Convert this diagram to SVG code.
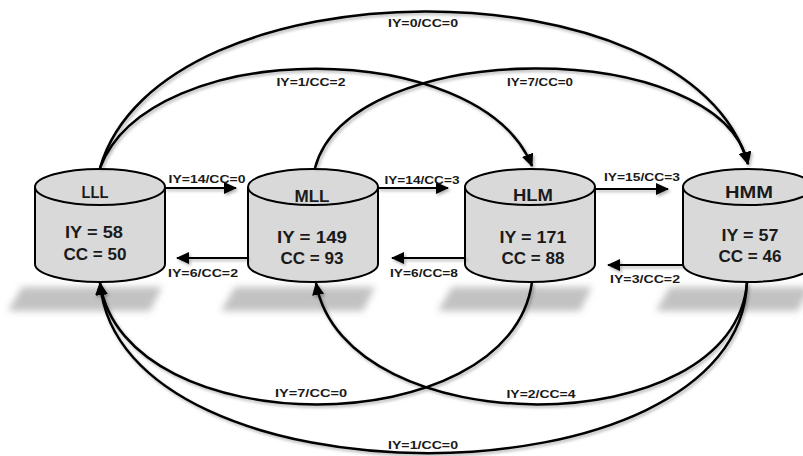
<svg xmlns="http://www.w3.org/2000/svg" width="803" height="456" viewBox="0 0 803 456">
  <style>
    .body { fill: #d9d9d9; stroke: #000; stroke-width: 2; }
    .shadow { fill: #c2c2c2; filter: url(#blur); }
    .nm { font-family: "Liberation Sans", Arial, sans-serif; font-weight: bold; font-size: 16px; fill: #1a1a1a; text-anchor: middle; }
    .val { font-family: "Liberation Sans", Arial, sans-serif; font-weight: bold; font-size: 16.5px; fill: #1a1a1a; text-anchor: middle; }
    .lbl { font-family: "Liberation Sans", Arial, sans-serif; font-weight: bold; font-size: 11px; fill: #1a1a1a; text-anchor: middle; }
    .arc { fill: none; stroke: #000; stroke-width: 2.5; marker-end: url(#ah); }
    .hz { fill: none; stroke: #000; stroke-width: 2; marker-end: url(#ah); }
  </style>
  <defs>
    <filter id="blur" x="-20%" y="-60%" width="140%" height="220%">
      <feGaussianBlur stdDeviation="3.5"/>
    </filter>
    <filter id="ds" x="-10%" y="-10%" width="120%" height="130%">
      <feDropShadow dx="1.5" dy="2" stdDeviation="1.5" flood-color="#000" flood-opacity="0.3"/>
    </filter>
    <marker id="ah" markerUnits="userSpaceOnUse" markerWidth="14" markerHeight="12" refX="12" refY="6" orient="auto">
      <path d="M0,0 L13,6 L0,12 Z" fill="#000"/>
    </marker>
  </defs>

  <!-- shadows -->
  <g id="shadows">
    <polygon class="shadow" points="22,287 162,287 150,311 8,311"/>
    <polygon class="shadow" points="235,287 375,287 363,311 221,311"/>
    <polygon class="shadow" points="452,287 592,287 580,311 438,311"/>
    <polygon class="shadow" points="670,287 810,287 798,311 656,311"/>
  </g>

  <!-- nodes -->
  <g id="LLL" transform="translate(100,187)">
    <path class="body" d="M-65,0 V77 A65,18 0 0 0 65,77 V0"/>
    <ellipse class="body" cx="0" cy="0" rx="65" ry="18"/>
    <text class="nm" x="-5" y="11" textLength="27" lengthAdjust="spacingAndGlyphs">LLL</text>
    <text class="val" x="-6" y="51" textLength="58" lengthAdjust="spacingAndGlyphs">IY = 58</text>
    <text class="val" x="-5" y="73" textLength="63" lengthAdjust="spacingAndGlyphs">CC = 50</text>
  </g>
  <g id="MLL" transform="translate(313,187)">
    <path class="body" d="M-65,0 V77 A65,18 0 0 0 65,77 V0"/>
    <ellipse class="body" cx="0" cy="0" rx="65" ry="18"/>
    <text class="nm" x="-1" y="15" textLength="35" lengthAdjust="spacingAndGlyphs">MLL</text>
    <text class="val" x="-1" y="56" textLength="70" lengthAdjust="spacingAndGlyphs">IY = 149</text>
    <text class="val" x="-1" y="77" textLength="63" lengthAdjust="spacingAndGlyphs">CC = 93</text>
  </g>
  <g id="HLM" transform="translate(530,187)">
    <path class="body" d="M-65,0 V77 A65,18 0 0 0 65,77 V0"/>
    <ellipse class="body" cx="0" cy="0" rx="65" ry="18"/>
    <text class="nm" x="3" y="14" textLength="40" lengthAdjust="spacingAndGlyphs">HLM</text>
    <text class="val" x="3" y="56" textLength="67" lengthAdjust="spacingAndGlyphs">IY = 171</text>
    <text class="val" x="3" y="77" textLength="63" lengthAdjust="spacingAndGlyphs">CC = 88</text>
  </g>
  <g id="HMM" transform="translate(748,187)">
    <path class="body" d="M-65,0 V77 A65,18 0 0 0 65,77 V0"/>
    <ellipse class="body" cx="0" cy="0" rx="65" ry="18"/>
    <text class="nm" x="1" y="11" textLength="48" lengthAdjust="spacingAndGlyphs">HMM</text>
    <text class="val" x="2" y="54" textLength="57" lengthAdjust="spacingAndGlyphs">IY = 57</text>
    <text class="val" x="2" y="75" textLength="63" lengthAdjust="spacingAndGlyphs">CC = 46</text>
  </g>

  <!-- connectors -->
  <g id="connectors" filter="url(#ds)">
    <path class="hz" d="M165,188 H236"/>
    <path class="hz" d="M378,188 H448"/>
    <path class="hz" d="M595,189 H668"/>
    <path class="hz" d="M248,258 H177"/>
    <path class="hz" d="M466,258 H392"/>
    <path class="hz" d="M683,265 H608"/>
    <path class="arc" d="M100,168 C160,-40 690,-40 748,164"/>
    <path class="arc" d="M100,168 C150,36 480,36 532,166"/>
    <path class="arc" d="M315,168 C350,36 720,36 748,164"/>
    <path class="arc" d="M532,282 C510,445 125,445 100,283"/>
    <path class="arc" d="M747,282 C735,445 345,445 316,283"/>
    <path class="arc" d="M747,282 C740,510 120,510 100,283"/>
  </g>

  <!-- connector labels -->
  <g id="labels">
    <text class="lbl" x="207" y="183" textLength="77" lengthAdjust="spacingAndGlyphs">IY=14/CC=0</text>
    <text class="lbl" x="203" y="277" textLength="70" lengthAdjust="spacingAndGlyphs">IY=6/CC=2</text>
    <text class="lbl" x="422" y="184" textLength="75" lengthAdjust="spacingAndGlyphs">IY=14/CC=3</text>
    <text class="lbl" x="424" y="277" textLength="68" lengthAdjust="spacingAndGlyphs">IY=6/CC=8</text>
    <text class="lbl" x="642" y="181" textLength="76" lengthAdjust="spacingAndGlyphs">IY=15/CC=3</text>
    <text class="lbl" x="645" y="283" textLength="70" lengthAdjust="spacingAndGlyphs">IY=3/CC=2</text>
    <text class="lbl" x="423" y="27" textLength="70" lengthAdjust="spacingAndGlyphs">IY=0/CC=0</text>
    <text class="lbl" x="311" y="86" textLength="69" lengthAdjust="spacingAndGlyphs">IY=1/CC=2</text>
    <text class="lbl" x="540" y="86" textLength="66" lengthAdjust="spacingAndGlyphs">IY=7/CC=0</text>
    <text class="lbl" x="311" y="397" textLength="72" lengthAdjust="spacingAndGlyphs">IY=7/CC=0</text>
    <text class="lbl" x="541" y="398" textLength="69" lengthAdjust="spacingAndGlyphs">IY=2/CC=4</text>
    <text class="lbl" x="423" y="449" textLength="70" lengthAdjust="spacingAndGlyphs">IY=1/CC=0</text>
  </g>
</svg>
